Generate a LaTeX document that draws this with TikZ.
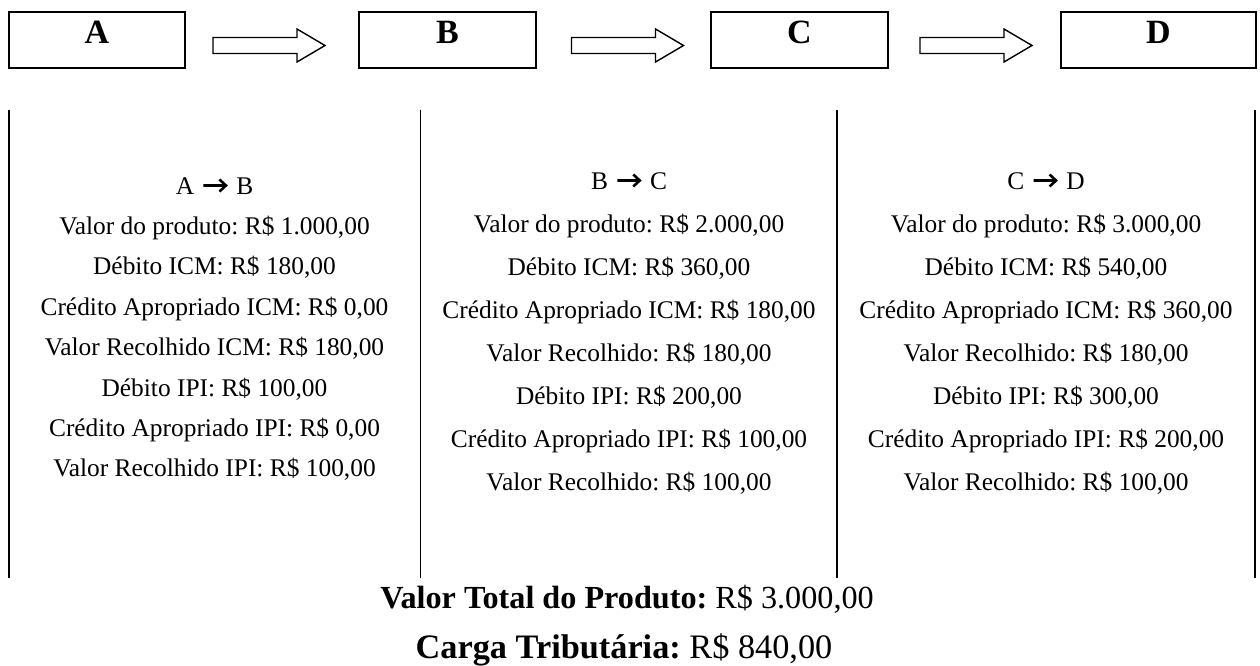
\documentclass[tikz,border=0pt]{standalone}
\usepackage{fontspec}
\setmainfont{Liberation Serif}
\usetikzlibrary{calc}
\newcommand{\symarrow}{\tikz[baseline=0pt,x=1pt,y=1pt]{\draw[line width=2.6pt,line cap=butt,line join=miter]
  (0,8.5) -- (22,8.5) (16,14.5) -- (22.5,8.5) -- (16,2.5);}}
\begin{document}
\frenchspacing
\begin{tikzpicture}[x=1pt,y=-1pt,
  box/.style={draw,line width=1.8pt,rectangle,minimum height=56pt,inner sep=0pt},
  boxlabel/.style={anchor=base,font=\fontsize{34}{34}\selectfont\bfseries,inner sep=0pt},
  info/.style={anchor=base,font=\fontsize{25.4}{30}\selectfont,inner sep=0pt},
  total/.style={anchor=base,inner sep=0pt},
  sepline/.style={line width=1.8pt},
  blockarrow/.pic={\draw[line width=1.4pt,line join=miter]
     (-56,-8) -- (28,-8) -- (28,-16.5) -- (56,0) -- (28,16.5) -- (28,8) -- (-56,8) -- cycle;}
]
\useasboundingbox (0,0) rectangle (1260,666);

% boxes
\node[box,minimum width=176pt] (A) at (97,40) {};
\node[box,minimum width=177pt] (B) at (447.5,40) {};
\node[box,minimum width=177pt] (C) at (799.5,40) {};
\node[box,minimum width=195pt] (D) at (1158.5,40) {};
\node[boxlabel] (lA) at ([yshift=-32pt]A.north) {A};
\node[boxlabel] (lB) at ([yshift=-32pt]B.north) {B};
\node[boxlabel] (lC) at ([yshift=-32pt]C.north) {C};
\node[boxlabel] (lD) at ([yshift=-32pt]D.north) {D};

% block arrows
\pic at (269,45.5) {blockarrow};
\pic at (627.5,45.5) {blockarrow};
\pic at (976,45.5) {blockarrow};

% separators
\draw[sepline] (9.3,110) -- (9.3,578);
\draw[sepline] (420.5,110) -- (420.5,578);
\draw[sepline] (837,110) -- (837,578);
\draw[sepline] (1255,110) -- (1255,578);

% column 1
\foreach \t [count=\i from 0] in {
  {A\hspace{8pt}\symarrow\hspace{9pt}B},
  {Valor do produto: R\$ 1.000,00},
  {Débito ICM: R\$ 180,00},
  {Crédito Apropriado ICM: R\$ 0,00},
  {Valor Recolhido ICM: R\$ 180,00},
  {Débito IPI: R\$ 100,00},
  {Crédito Apropriado IPI: R\$ 0,00},
  {Valor Recolhido IPI: R\$ 100,00}}
  \node[info] (ca\i) at (214.5,194+40.4*\i) {\t};

% column 2
\foreach \t [count=\i from 0] in {
  {B\hspace{8pt}\symarrow\hspace{9pt}C},
  {Valor do produto: R\$ 2.000,00},
  {Débito ICM: R\$ 360,00},
  {Crédito Apropriado ICM: R\$ 180,00},
  {Valor Recolhido: R\$ 180,00},
  {Débito IPI: R\$ 200,00},
  {Crédito Apropriado IPI: R\$ 100,00},
  {Valor Recolhido: R\$ 100,00}}
  \node[info] (cb\i) at (629,189+43.1*\i) {\t};

% column 3
\foreach \t [count=\i from 0] in {
  {C\hspace{8pt}\symarrow\hspace{9pt}D},
  {Valor do produto: R\$ 3.000,00},
  {Débito ICM: R\$ 540,00},
  {Crédito Apropriado ICM: R\$ 360,00},
  {Valor Recolhido: R\$ 180,00},
  {Débito IPI: R\$ 300,00},
  {Crédito Apropriado IPI: R\$ 200,00},
  {Valor Recolhido: R\$ 100,00}}
  \node[info] (cc\i) at (1046,189+43.1*\i) {\t};

% totals
\node[total,font=\fontsize{32.2}{36}\selectfont] (tot) at (627,608) {\textbf{Valor Total do Produto:} R\$ 3.000,00};
\node[total,font=\fontsize{34.3}{38}\selectfont] (carga) at (624,658) {\textbf{Carga Tributária:} R\$ 840,00};
\end{tikzpicture}
\end{document}
